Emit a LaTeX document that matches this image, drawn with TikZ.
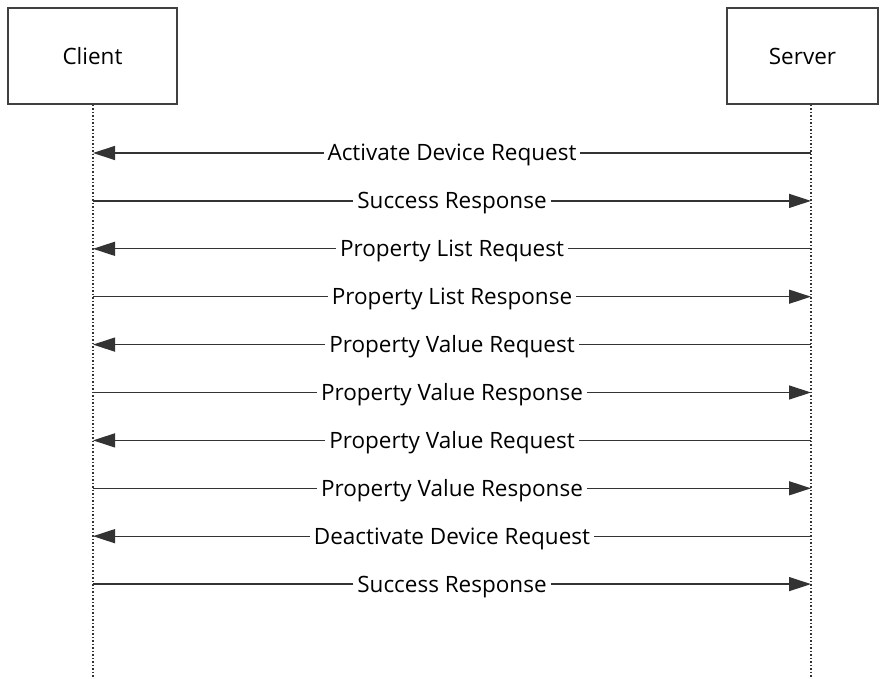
\documentclass[tikz,border=0pt]{standalone}
\usepackage{fontspec}
\setmainfont{Open Sans}
\usetikzlibrary{arrows.meta}
\newcommand{\msgfont}{\fontsize{22.5}{25}\selectfont}
\tikzset{
    actor/.style = {draw = black!75, line width = 1.2pt, fill = white, inner sep = 0pt, font = \msgfont},
    lifeline/.style = {draw = black!80, line width = 1.2pt, dash pattern = on 1.5pt off 2pt},
    msg/.style = {draw = black!80, line width = 1.3pt, -{Triangle[length = 22pt, width = 14pt]}},
    msglabel/.style = {fill = white, inner xsep = 4pt, inner ysep = 2pt, text height = 16pt, text depth = 0pt, font = \msgfont}
}
\begin{document}
\begin{tikzpicture}[x = 1pt, y = -1pt]
        \useasboundingbox (0,0) rectangle (887,679);
        \node[actor, minimum width = 169pt, minimum height = 96pt] (client) at (92.5,56) {Client};
        \node[actor, minimum width = 151pt, minimum height = 96pt] (server) at (802.5,56) {Server};
        \coordinate (clientend) at (93,679);
        \coordinate (serverend) at (811,679);
        \draw[lifeline] (client.south -| clientend) -- (clientend);
        \draw[lifeline] (server.south -| serverend) -- (serverend);
        % messages, odd ones go from server to client
        \foreach \text [count = \i] in {Activate Device Request, Success Response,
                Property List Request, Property List Response,
                Property Value Request, Property Value Response,
                Property Value Request, Property Value Response,
                Deactivate Device Request, Success Response} {
            \pgfmathsetmacro{\y}{153 + (\i - 1) * 47.9}
            \coordinate (c\i) at (93,\y);
            \coordinate (s\i) at (811,\y);
            \ifodd\i
                \draw[msg] (s\i) -- (c\i) node[midway, msglabel] {\text};
            \else
                \draw[msg] (c\i) -- (s\i) node[midway, msglabel] {\text};
            \fi
        }
    \end{tikzpicture}
\end{document}
